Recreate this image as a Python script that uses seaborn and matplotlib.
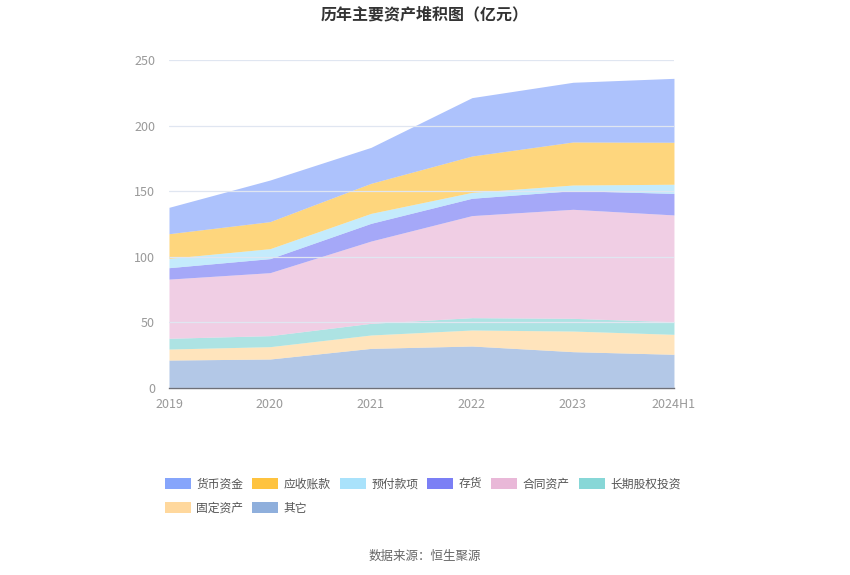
import numpy as np
import pandas as pd
import matplotlib
matplotlib.use("Agg")
import matplotlib.pyplot as plt
import seaborn as sns
from matplotlib.patches import Patch

# 数据（亿元）
years = ["2019", "2020", "2021", "2022", "2023", "2024H1"]
cash = [20.1, 31.7, 27.4, 44.5, 45.5, 48.7]          # 货币资金
receivable = [18.8, 20.6, 22.9, 27.7, 32.8, 32.0]    # 应收账款
prepay = [7.1, 7.6, 7.6, 4.5, 4.3, 7.0]              # 预付款项
inventory = [8.7, 10.7, 13.5, 13.2, 14.2, 16.4]      # 存货
contract = [45.1, 48.0, 62.7, 77.8, 83.1, 81.4]      # 合同资产
lt_equity = [8.2, 8.4, 8.9, 9.4, 9.7, 9.6]           # 长期股权投资
fixed = [8.4, 9.4, 10.2, 12.2, 15.7, 15.2]           # 固定资产
other = [21.3, 22.1, 30.2, 32.0, 27.7, 25.7]         # 其它

df = pd.DataFrame({
    "货币资金": cash,
    "应收账款": receivable,
    "预付款项": prepay,
    "存货": inventory,
    "合同资产": contract,
    "长期股权投资": lt_equity,
    "固定资产": fixed,
    "其它": other,
}, index=years)

colors = {
    "货币资金": "#86a5fb",
    "应收账款": "#fec33f",
    "预付款项": "#a9e2fb",
    "存货": "#7b7ff5",
    "合同资产": "#e9b8d8",
    "长期股权投资": "#87d7d7",
    "固定资产": "#ffd89d",
    "其它": "#8fafdc",
}

sns.set_theme(style="white")
plt.rcParams['font.family'] = ['Noto Sans CJK SC', 'DejaVu Sans']

fig = plt.figure(figsize=(8.5, 5.75), dpi=100)
ax = fig.add_axes([0.1988, 0.3252, 0.5941, 0.5705])

# 从底部往上堆叠：其它 -> 货币资金
stack_order = list(df.columns)[::-1]
x = np.arange(len(years))
ax.stackplot(x, [df[c].values for c in stack_order],
             colors=[colors[c] for c in stack_order],
             alpha=0.68, linewidth=0)

ax.set_xlim(0, len(years) - 1)
ax.set_ylim(0, 250)
ax.set_yticks([0, 50, 100, 150, 200, 250])
ax.set_xticks(x)
ax.set_xticklabels(years)
ax.yaxis.grid(True, color="#e0e6f1", linewidth=0.9)
ax.xaxis.grid(False)
ax.set_axisbelow(False)
for s in ["top", "right", "left"]:
    ax.spines[s].set_visible(False)
ax.spines["bottom"].set_color("#6e7079")
ax.spines["bottom"].set_linewidth(1)
ax.tick_params(axis="x", colors="#999999", labelsize=9, length=5,
               width=1, direction="out", pad=2)
ax.tick_params(axis="x", color="#6e7079")
ax.tick_params(axis="y", colors="#999999", labelsize=9, length=0, pad=10)
ax.set_xlabel("")
ax.set_ylabel("")

fig.text(0.5, 0.975, "历年主要资产堆积图（亿元）", ha="center", va="center",
         fontsize=11.5, fontweight="bold", color="#333333")

# 图例（行优先排列）
names = list(df.columns)
handles = {n: Patch(facecolor=colors[n], edgecolor="none") for n in names}
order = [names[0], names[6], names[1], names[7], names[2], names[3], names[4], names[5]]
leg = fig.legend([handles[n] for n in order], order, ncol=6,
                 loc="upper left", bbox_to_anchor=(0.1885, 0.178),
                 frameon=False, fontsize=8.5, handlelength=2.2, handleheight=1.15,
                 columnspacing=0.78, handletextpad=0.45, labelspacing=0.95,
                 borderaxespad=0)
for t in leg.get_texts():
    t.set_color("#555555")

fig.text(0.5, 0.032, "数据来源：恒生聚源", ha="center", va="center",
         fontsize=9, color="#666666")

fig.savefig("out.png", dpi=100)
